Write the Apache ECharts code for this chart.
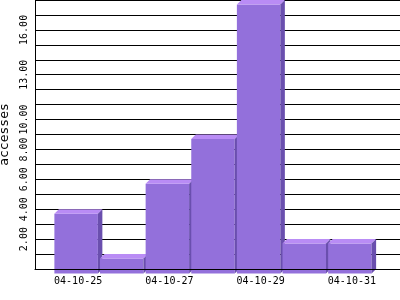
<!DOCTYPE html>
<html>
<head>
<meta charset="utf-8">
<script src="https://cdn.jsdelivr.net/npm/echarts@6/dist/echarts.min.js"></script>
<style>html,body{margin:0;padding:0;background:#fff}#c{width:400px;height:300px}</style>
</head>
<body>
<div id="c"></div>
<script>
var dates = ['04-10-25','04-10-26','04-10-27','04-10-28','04-10-29','04-10-30','04-10-31'];
var accesses = [4, 1, 6, 9, 18, 2, 2];
var shownLabels = ['04-10-25','04-10-27','04-10-29','04-10-31'];
var yTickLabels = [2, 4, 6, 8, 10, 13, 16];

var axisCats = [''].concat(dates).concat(['']);
var seriesData = accesses.map(function (v, i) { return [i + 1, v]; });

var D = 4.5;
var FRONT = '#9370DB', TOP = '#b98cf5', SIDE = '#6a4fae';

var chart = echarts.init(document.getElementById('c'), null, {renderer: 'canvas'});
chart.setOption({
  animation: false,
  backgroundColor: '#ffffff',
  grid: {left: 35, right: 0, top: 0, height: 269, containLabel: false, outerBoundsMode: 'none'},
  xAxis: {
    type: 'category',
    data: axisCats,
    boundaryGap: false,
    z: 10,
    axisLine: {show: true, lineStyle: {color: '#000', width: 1}},
    axisTick: {show: false},
    splitLine: {show: false},
    axisLabel: {
      interval: 0,
      margin: 7,
      padding: [0, 5, 0, 0],
      fontFamily: 'DejaVu Sans Mono',
      fontSize: 10,
      color: '#000',
      formatter: function (v) { return shownLabels.indexOf(v) >= 0 ? v : ''; }
    }
  },
  yAxis: {
    type: 'value',
    min: 0,
    max: 18,
    interval: 1,
    name: 'accesses',
    nameLocation: 'middle',
    nameGap: 17,
    nameRotate: 90,
    nameTextStyle: {fontFamily: 'DejaVu Sans Mono', fontSize: 13, color: '#000'},
    axisLine: {show: true, lineStyle: {color: '#000', width: 1}},
    axisTick: {show: false},
    splitLine: {show: true, lineStyle: {color: '#000', width: 1}},
    axisLabel: {
      rotate: 90,
      margin: 6,
      fontFamily: 'DejaVu Sans Mono',
      fontSize: 10,
      color: '#000',
      showMaxLabel: true,
      formatter: function (v) { return yTickLabels.indexOf(v) >= 0 ? v.toFixed(2) : ''; }
    }
  },
  series: [{
    type: 'custom',
    clip: false,
    z: 2,
    data: seriesData,
    renderItem: function (params, api) {
      var x = api.value(0), y = api.value(1);
      var p = api.coord([x, y]);
      var b = api.coord([x, 0]);
      var w = api.size([1, 0])[0] * 0.953;
      var fl = p[0] - w / 2 - D;
      var ft = p[1] + D;
      var fb = b[1] + D;
      var fr = fl + w;
      return {
        type: 'group',
        children: [
          {type: 'rect', shape: {x: fl, y: ft, width: w, height: fb - ft}, style: {fill: FRONT}},
          {type: 'polygon', shape: {points: [[fl, ft], [fr, ft], [fr + D, ft - D], [fl + D, ft - D]]}, style: {fill: TOP}},
          {type: 'polygon', shape: {points: [[fr, ft], [fr + D, ft - D], [fr + D, fb - D], [fr, fb]]}, style: {fill: SIDE}}
        ]
      };
    }
  }]
});
</script>
</body>
</html>
